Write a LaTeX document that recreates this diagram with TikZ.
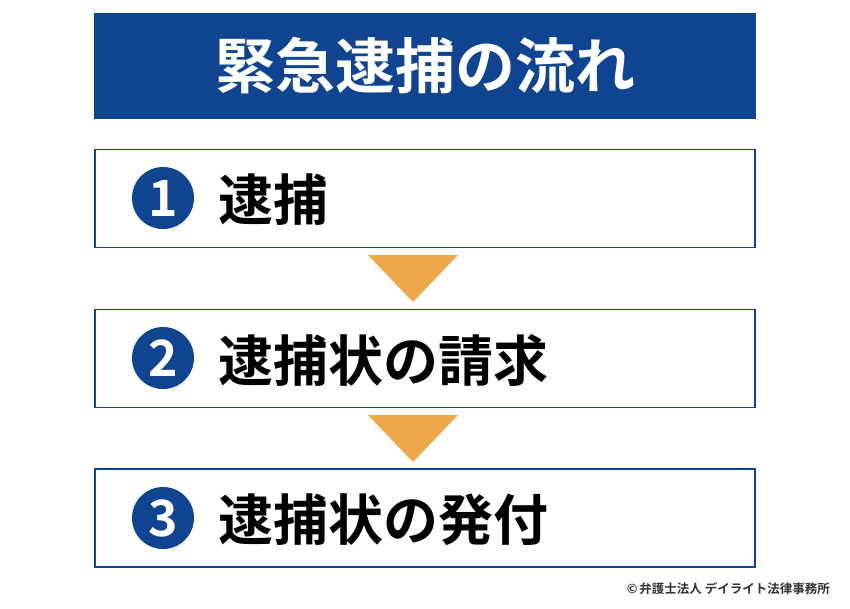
\documentclass[tikz,border=0pt]{standalone}
\usepackage{fontspec}
\setmainfont{Noto Sans CJK JP}[BoldFont={Noto Sans CJK JP Bold}]
\definecolor{navy}{HTML}{0F4590}
\definecolor{arrowor}{HTML}{EEA84A}
\begin{document}
\begin{tikzpicture}[x=1pt,y=-1pt,
  stepbox/.style={draw=navy,line width=1.6pt,fill=white,minimum width=660pt,minimum height=98pt,inner sep=0pt},
  numcirc/.style={circle,fill=navy,minimum size=62pt,inner sep=0pt,text=white,font=\fontsize{50}{50}\selectfont\bfseries},
  steptext/.style={anchor=west,inner sep=0pt,font=\fontsize{55}{55}\selectfont\bfseries},
  downtri/.style={fill=arrowor}]
\useasboundingbox (0,0) rectangle (850,608);
\fill[white] (0,0) rectangle (850,608);
\node[fill=navy,minimum width=662pt,minimum height=106pt,inner sep=0pt,text=white,font=\fontsize{60}{60}\selectfont\bfseries] (title) at (425,66) {緊急逮捕の流れ};
\node[stepbox] (b1) at (425,198.5) {};
\node[stepbox] (b2) at (425,358.5) {};
\node[stepbox] (b3) at (425,518) {};
\node[numcirc] (c1) at (163,198) {1};
\node[numcirc] (c2) at (163,358) {2};
\node[numcirc] (c3) at (163,518) {3};
\node[steptext] (t1) at (218,200) {逮捕};
\node[steptext] (t2) at (218,360) {逮捕状の請求};
\node[steptext] (t3) at (218,520) {逮捕状の発付};
\coordinate (a1) at (413,255);
\coordinate (a2) at (413,415);
\fill[downtri] ([xshift=-45pt]a1) -- ([xshift=45pt]a1) -- ([yshift=-47pt]a1) -- cycle;
\fill[downtri] ([xshift=-45pt]a2) -- ([xshift=45pt]a2) -- ([yshift=-47pt]a2) -- cycle;
\node[anchor=east,inner sep=0pt,text=black!80,font=\fontsize{12.5}{12.5}\selectfont\bfseries] (copy) at (830,589) {©\,弁護士法人 デイライト法律事務所};
\end{tikzpicture}
\end{document}
